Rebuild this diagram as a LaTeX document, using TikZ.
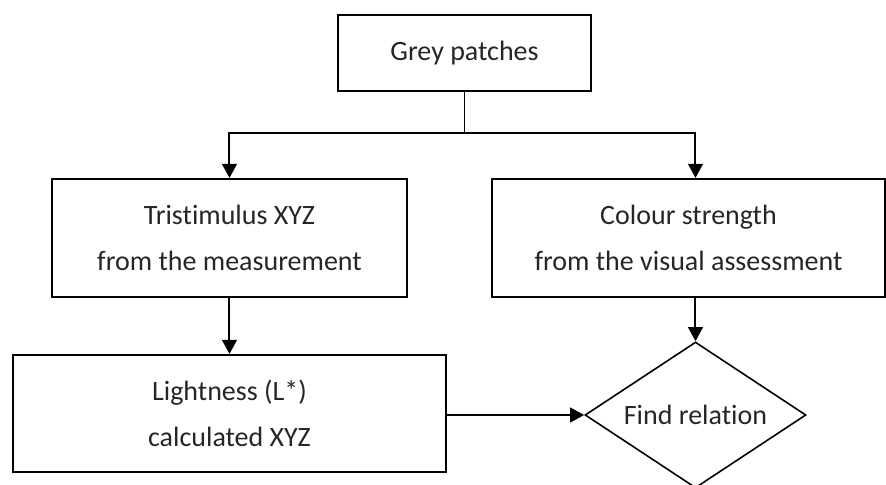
\documentclass[tikz,border=0pt]{standalone}
\usepackage{fontspec}
\setmainfont[Ligatures=NoCommon]{Carlito}
\usepackage{tikz}
\usetikzlibrary{arrows.meta, positioning, shapes, calc}

\begin{document}
\begin{tikzpicture}[
                node distance=64.4pt and 20pt,
                comp/.style={draw, rectangle, line width=1.6pt, minimum height=88.5pt, align=center, inner sep=0pt, text=black!85, font=\fontsize{21}{35}\selectfont},
                decide/.style={draw, diamond, line width=1.2pt, shape aspect=1.5, inner sep=0pt, minimum width=165.75pt, minimum height=109.5pt, text=black!85, font=\fontsize{21}{35}\selectfont},
                flow/.style={line width=1.5pt},
                >={Triangle[length=10.5pt, width=11pt]}
            ]
                % Frame of the page
                \useasboundingbox (-348.375pt,39.75pt) rectangle ++(664.5pt,-363.75pt);

                % Nodes
                \node[comp, minimum width=189.75pt, minimum height=57pt] (grey) at (0,0) {Grey patches};
                \node[comp, minimum width=266.25pt, below=of grey, xshift=-176.25pt] (tri) {Tristimulus XYZ\\from the measurement};
                \node[comp, minimum width=294.75pt, below=of grey, xshift=168pt] (col) {Colour strength\\from the visual assessment};
                \node[comp, minimum width=324.75pt, minimum height=87.75pt, below=41.9pt of tri] (light) {Lightness (L*)\\calculated XYZ};
                \node[decide, below=32.35pt of col, xshift=5.25pt] (rel) {Find relation};
                \coordinate[below=30.7pt of grey.south] (split);

                % Connections
                \draw[line width=1.1pt] (grey.south) -- (split);
                \draw[flow, ->] (split) -| (tri.north);
                \draw[flow, ->] (split) -| (rel.north |- col.north);
                \draw[flow, ->] (tri) -- (light);
                \draw[flow, ->] (rel.north |- col.south) -- (rel.north);
                \draw[flow, ->] (light.east |- rel.west) -- (rel.west);

            \end{tikzpicture}
\end{document}
